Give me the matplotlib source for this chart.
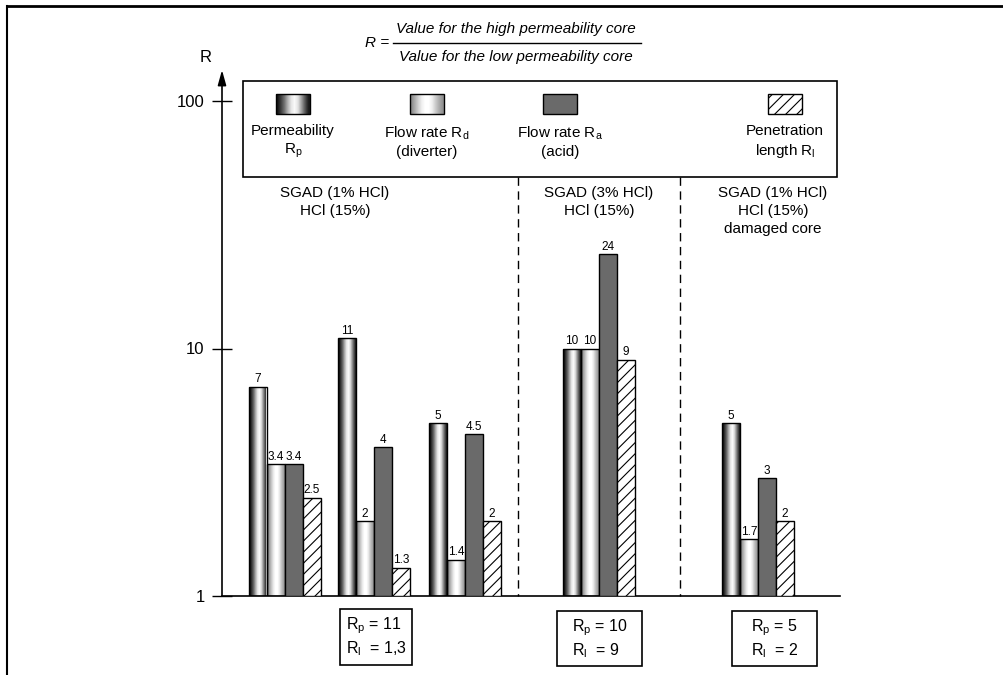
import numpy as np
import matplotlib
matplotlib.use("Agg")
import matplotlib.pyplot as plt
from matplotlib.patches import Rectangle
from matplotlib.lines import Line2D

plt.rcParams['font.family'] = ['Liberation Sans', 'DejaVu Sans']
plt.rcParams['hatch.linewidth'] = 0.8

# data
permeability = [7, 11, 5, 10, 5]
flow_diverter = [3.4, 2, 1.4, 10, 1.7]
flow_acid = [3.4, 4, 4.5, 24, 3]
penetration = [2.5, 1.3, 2, 9, 2]
series = [permeability, flow_diverter, flow_acid, penetration]

group_titles = ["SGAD (1% HCl)\nHCl (15%)",
                "SGAD (3% HCl)\nHCl (15%)",
                "SGAD (1% HCl)\nHCl (15%)\ndamaged core"]
summary_texts = ["$\\mathregular{R_p}$ = 11\n$\\mathregular{R_l}$  = 1,3",
                 "$\\mathregular{R_p}$ = 10\n$\\mathregular{R_l}$  = 9",
                 "$\\mathregular{R_p}$ = 5\n$\\mathregular{R_l}$  = 2"]
legend_labels = ["Permeability\n$\\mathregular{R_p}$",
                 "Flow rate $\\mathregular{R_d}$\n(diverter)",
                 "Flow rate $\\mathregular{R_a}$\n(acid)",
                 "Penetration\nlength $\\mathregular{R_l}$"]

# layout (pixel based)
W, H = 1004, 675
group_x = [285, 374, 465, 599, 758]
bar_w = 18
ax_left, ax_right, ax_bottom, ax_top = 222, 840, 596, 70
ytop = 10 ** ((ax_bottom - ax_top) / 247.5)

# shading profiles for the "cylinder" bars
perm_prof = np.array([[0.08, 0.25, 0.45, 0.70, 0.90, 0.98, 0.88, 0.62, 0.35, 0.12]])
div_prof = np.array([[0.55, 0.68, 0.82, 0.94, 1.00, 1.00, 0.93, 0.80, 0.68, 0.58]])

fig = plt.figure(figsize=(W / 100, H / 100), dpi=100)
ax = fig.add_axes([ax_left / W, 1 - ax_bottom / H,
                   (ax_right - ax_left) / W, (ax_bottom - ax_top) / H])
ax.set_yscale('log')


def shaded_bar(x0, val, prof):
    ax.imshow(prof, cmap='gray', vmin=0, vmax=1, aspect='auto',
              interpolation='bilinear', extent=(x0, x0 + bar_w, 1, val),
              zorder=2)
    ax.bar(x0, val - 1, bottom=1, width=bar_w, align='edge', fill=False,
           edgecolor='black', linewidth=1, zorder=3)


for i, gx in enumerate(group_x):
    x0 = gx - 2 * bar_w
    shaded_bar(x0, permeability[i], perm_prof)
    shaded_bar(x0 + bar_w, flow_diverter[i], div_prof)
    ax.bar(x0 + 2 * bar_w, flow_acid[i] - 1, bottom=1, width=bar_w,
           align='edge', color='#6a6a6a', edgecolor='black', linewidth=1,
           zorder=3)
    ax.bar(x0 + 3 * bar_w, penetration[i] - 1, bottom=1, width=bar_w,
           align='edge', color='white', edgecolor='black', linewidth=1,
           hatch='///', zorder=3)
    for j, s in enumerate(series):
        ax.annotate('%g' % s[i], (x0 + (j + 0.5) * bar_w, s[i]),
                    xytext=(0, 1), textcoords='offset points',
                    ha='center', va='bottom', fontsize=8.5)

ax.set_xlim(ax_left, ax_right)
ax.set_ylim(1, ytop)
ax.spines['top'].set_visible(False)
ax.spines['right'].set_visible(False)
ax.spines['left'].set_visible(False)
ax.spines['bottom'].set_linewidth(1.2)
ax.set_xticks([])
ax.set_yticks([1, 10, 100])
ax.set_yticklabels(['1', '10', '100'])
ax.minorticks_off()
ax.tick_params(axis='y', direction='inout', length=15, width=1,
               labelsize=12, pad=5)
ax.annotate('', xy=(0, 1), xytext=(0, 0), xycoords='axes fraction',
            arrowprops=dict(arrowstyle='-|>,head_length=0.9,head_width=0.25',
                            color='black', lw=1.2, shrinkA=0, shrinkB=0))

# overlay for annotations in pixel coords
ov = fig.add_axes([0, 0, 1, 1])
ov.axis('off')
ov.patch.set_alpha(0)

# frame
ov.add_line(Line2D([7, 7], [6, H], color='black', lw=1.5))
ov.add_line(Line2D([7, W], [6, 6], color='black', lw=2))

ov.text(206, 58, 'R', fontsize=12, ha='center', va='center')

# formula
ov.text(389, 43, 'R =', fontsize=11, style='italic', ha='right', va='center')
ov.text(516, 29, 'Value for the high permeability core', fontsize=11,
        style='italic', ha='center', va='center')
ov.add_line(Line2D([393, 641], [43, 43], color='black', lw=1))
ov.text(516, 57, 'Value for the low permeability core', fontsize=11,
        style='italic', ha='center', va='center')

# legend box
ov.add_patch(Rectangle((243, 81), 594, 96, fill=False, edgecolor='black',
                       lw=1.2))
leg_x = [293, 427, 560, 785]
for k, lx in enumerate(leg_x):
    sx, sy, sw, sh = lx - 17, 94, 34, 20
    if k < 2:
        prof = perm_prof if k == 0 else div_prof
        ov.imshow(prof, cmap='gray', vmin=0, vmax=1, aspect='auto',
                  interpolation='bilinear', extent=(sx, sx + sw, sy + sh, sy))
        ov.add_patch(Rectangle((sx, sy), sw, sh, fill=False,
                               edgecolor='black', lw=1))
    elif k == 2:
        ov.add_patch(Rectangle((sx, sy), sw, sh, facecolor='#6a6a6a',
                               edgecolor='black', lw=1))
    else:
        ov.add_patch(Rectangle((sx, sy), sw, sh, facecolor='white',
                               edgecolor='black', lw=1, hatch='///'))
    ov.text(lx, 142, legend_labels[k], fontsize=11, ha='center', va='center',
            linespacing=1.3)

# separators
for dx in [518, 680]:
    ov.add_line(Line2D([dx, dx], [177, ax_bottom], color='black', lw=1,
                       linestyle=(0, (6, 4))))

# group titles
title_x = [335, 599, 773]
for tx, t in zip(title_x, group_titles):
    ov.text(tx, 186, t, fontsize=11, ha='center', va='top', linespacing=1.35)

# summary boxes
boxes = [(340, 609, 72, 56), (557, 611, 85, 55), (732, 611, 85, 55)]
for (bx, by, bw, bh), t in zip(boxes, summary_texts):
    ov.add_patch(Rectangle((bx, by), bw, bh, fill=False, edgecolor='black',
                           lw=1.2))
    ov.text(bx + bw / 2, by + bh / 2, t, fontsize=11.5, ha='center',
            va='center', multialignment='left', linespacing=1.25)

ov.set_xlim(0, W)
ov.set_ylim(H, 0)

fig.savefig('out.png', dpi=100)
